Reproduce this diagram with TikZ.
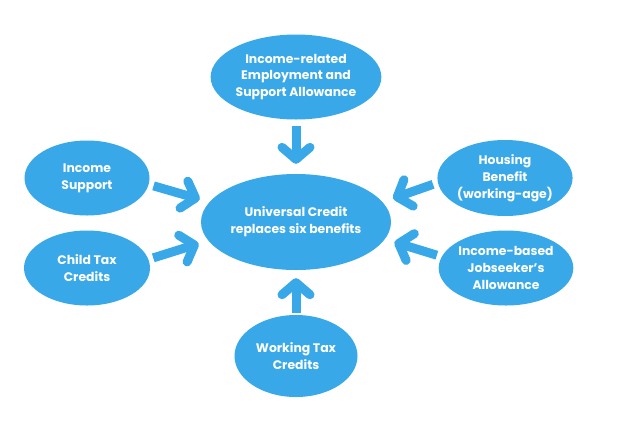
\documentclass[tikz,border=0pt]{standalone}
\usepackage{fontspec}
\setmainfont{Poppins}
\usetikzlibrary{shapes.geometric,arrows.meta}
\definecolor{ucblue}{HTML}{38A8E8}
\tikzset{
  bub/.style={ellipse, fill=ucblue, text=white, inner sep=0pt, align=center,
    font=\bfseries\fontsize{12.4}{16.8}\selectfont},
  arr/.style={draw=ucblue, line width=9pt, line cap=butt,
    -{Straight Barb[length=12pt,width=28pt,round]}}
}
\begin{document}
\begin{tikzpicture}[x=1pt,y=-1pt]
\useasboundingbox[fill=white] (0,0) rectangle (620,426);
\node[bub, minimum width=142pt, minimum height=85pt] (top) at (296,77) {Income-related\\Employment and\\Support Allowance};
\node[bub, minimum width=190pt, minimum height=96pt] (uc) at (296,222) {Universal Credit\\replaces six benefits};
\node[bub, minimum width=125pt, minimum height=75pt] (is) at (87,178) {Income\\Support};
\node[bub, minimum width=126pt, minimum height=75pt] (ctc) at (87,268) {Child Tax\\Credits};
\node[bub, minimum width=126pt, minimum height=76pt] (hb) at (505,178) {Housing\\Benefit\\(working-age)};
\node[bub, minimum width=127pt, minimum height=75pt] (jsa) at (506,268) {Income-based\\Jobseeker’s\\Allowance};
\node[bub, minimum width=123pt, minimum height=82pt] (wtc) at (296,356) {Working Tax\\Credits};
\draw[arr, shorten <=6pt, shorten >=10pt] (top) -- (uc);
\draw[arr, shorten <=2pt, shorten >=8pt] (wtc) -- (uc);
\draw[arr, shorten <=5pt, shorten >=10pt] (is.-6) -- (uc.167);
\draw[arr, shorten <=5pt, shorten >=10pt] (ctc.8) -- (uc.192);
\draw[arr, shorten <=5pt, shorten >=11pt] (hb.184) -- (uc.13);
\draw[arr, shorten <=5pt, shorten >=10pt] (jsa.170) -- (uc.-11);
\end{tikzpicture}
\end{document}
